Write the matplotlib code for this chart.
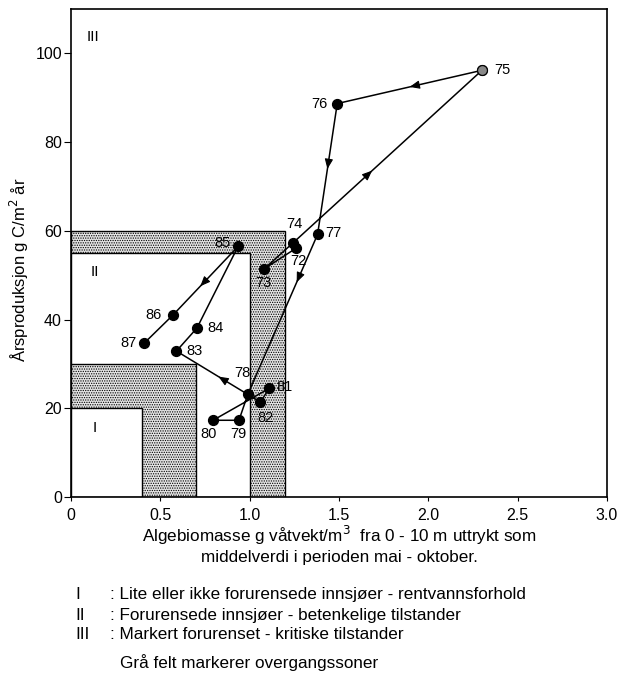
import numpy as np
import matplotlib
matplotlib.use("Agg")
import matplotlib.pyplot as plt
from matplotlib.patches import Rectangle

plt.rcParams['font.family'] = ['Liberation Sans', 'DejaVu Sans']
plt.rcParams['hatch.linewidth'] = 0.6
plt.rcParams['hatch.color'] = '#555555'

# year labels along the path, in time order
years = ["72", "73", "74", "75", "76", "77", "78", "79", "80",
         "81", "82", "83", "84", "85", "86", "87"]
# algal biomass (g wet weight / m3)
biomass = [1.26, 1.08, 1.24, 2.30, 1.49, 1.38, 0.99, 0.94, 0.795,
           1.11, 1.06, 0.59, 0.705, 0.935, 0.57, 0.41]
# annual production (g C / m2 year)
production = [56.1, 51.4, 57.2, 96.2, 88.7, 59.2, 23.2, 17.3, 17.3,
              24.5, 21.4, 32.9, 38.1, 56.5, 41.0, 34.7]

# zone boundaries (x limit, y limit), outermost first
zone_x = [1.2, 1.0, 0.7, 0.4]
zone_y = [60, 55, 30, 20]
zone_grey = [True, False, True, False]

legend_num = ["I", "II", "III"]
legend_txt = [": Lite eller ikke forurensede innsjøer - rentvannsforhold",
              ": Forurensede innsjøer - betenkelige tilstander",
              ": Markert forurenset - kritiske tilstander"]

# segments (start index) that carry a direction arrow, and where along them
arrow_seg = [2, 3, 4, 5, 10, 13]
arrow_frac = [0.42, 0.5, 0.5, 0.3, 0.5, 0.58]

# label offsets from the point, in pixels (x right, y down)
label_off = {"72": (2, 13), "73": (-1, 14), "74": (2, -19), "75": (20, 0),
             "76": (-18, 0), "77": (16, -1), "78": (-6, -21), "79": (-1, 14),
             "80": (-4, 14), "81": (15, -1), "82": (5, 16), "83": (18, 0),
             "84": (19, 0), "85": (-16, -3), "86": (-19, 0), "87": (-16, 0)}

fig = plt.figure(figsize=(6.19, 6.73), dpi=100)
ax = fig.add_axes([0.1147, 0.2615, 0.866, 0.725])

for zx, zy, g in zip(zone_x, zone_y, zone_grey):
    if g:
        ax.add_patch(Rectangle((0, 0), zx, zy, facecolor='#e4e4e4',
                               edgecolor='black', hatch='.......', lw=1.0,
                               zorder=1))
    else:
        ax.add_patch(Rectangle((0, 0), zx, zy, facecolor='white',
                               edgecolor='black', lw=1.0, zorder=1))

ax.plot(biomass, production, color='black', lw=1.1, zorder=3)
ax.scatter(biomass, production, s=50, color='black', zorder=4)
ax.scatter([biomass[3]], [production[3]], s=50, facecolor='#888888',
           edgecolor='black', lw=0.8, zorder=5)

for s, f in zip(arrow_seg, arrow_frac):
    x0, y0 = biomass[s], production[s]
    x1, y1 = biomass[s + 1], production[s + 1]
    xa, ya = x0 + f * (x1 - x0), y0 + f * (y1 - y0)
    xb, yb = x0 + (f - 0.02) * (x1 - x0), y0 + (f - 0.02) * (y1 - y0)
    ax.annotate("", xy=(xa, ya), xytext=(xb, yb),
                arrowprops=dict(arrowstyle='-|>,head_length=0.6,head_width=0.25',
                                color='black', lw=0.8, shrinkA=0, shrinkB=0),
                zorder=6)

for yr, xv, yv in zip(years, biomass, production):
    dx, dy = label_off[yr]
    ax.annotate(yr, (xv, yv), xytext=(dx * 0.72, -dy * 0.72),
                textcoords='offset points', fontsize=10.5,
                ha='center', va='center', zorder=7)

ax.text(0.125, 103.8, "III", fontsize=11, ha='center', va='center')
ax.text(0.134, 50.7, "II", fontsize=11, ha='center', va='center')
ax.text(0.134, 15.5, "I", fontsize=11, ha='center', va='center')

ax.set_xlim(0, 3.0)
ax.set_ylim(0, 110)
ax.set_xticks([0, 0.5, 1.0, 1.5, 2.0, 2.5, 3.0])
ax.set_xticklabels(["0", "0.5", "1.0", "1.5", "2.0", "2.5", "3.0"])
ax.set_yticks([0, 20, 40, 60, 80, 100])
ax.tick_params(axis='x', direction='out', length=3, labelsize=11.5, pad=5)
ax.tick_params(axis='y', direction='out', length=5, labelsize=11.5, pad=1.5)
for sp in ax.spines.values():
    sp.set_linewidth(1.2)

ax.set_ylabel("Årsproduksjon g C/m$^2$ år", fontsize=12)
ax.yaxis.set_label_coords(-0.075, 0.465)
fig.text(0.548, 0.205, "Algebiomasse g våtvekt/m$^3$  fra 0 - 10 m uttrykt som",
         fontsize=12.3, ha='center', va='center')
fig.text(0.548, 0.172, "middelverdi i perioden mai - oktober.",
         fontsize=12.3, ha='center', va='center')

leg_y = [0.116, 0.086, 0.0565]
for n, t, yy in zip(legend_num, legend_txt, leg_y):
    fig.text(0.121, yy, n, fontsize=12.3, ha='left', va='center')
    fig.text(0.178, yy, t, fontsize=12.3, ha='left', va='center')
fig.text(0.194, 0.0163, "Grå felt markerer overgangssoner", fontsize=12.3,
         ha='left', va='center')

fig.savefig("out.png", dpi=100)
